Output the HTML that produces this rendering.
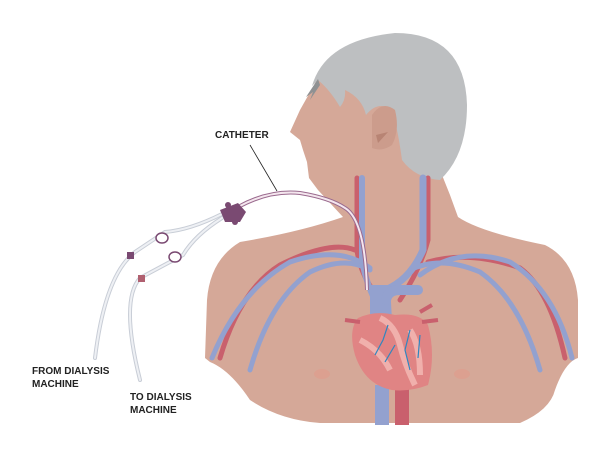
<!DOCTYPE html>
<html><head><style>body{margin:0;background:#fff}svg{display:block}
text{font-family:"Liberation Sans",sans-serif;font-weight:bold;font-size:10px;fill:#222}</style></head>
<body>
<svg width="612" height="454" viewBox="0 0 612 454">
<!-- head skin -->
<path d="M318,78 L300,110 L290,132 L300,140 L303,150 L307,162 L309,178 L318,190 L343,217 L458,217 L450,195 L442,175 L440,120 L400,60 L330,60 Z" fill="#d5a898"/>
<!-- body -->
<path d="M343,217 Q300,232 240,242 Q210,260 207,300 L205,358 L210,362 Q230,370 250,400 Q280,420 320,423 L520,423 Q550,410 555,390 Q565,362 578,358 L578,300 Q575,260 545,245 Q480,232 458,217 Z" fill="#d5a898"/>
<!-- hair -->
<path d="M312,86 Q325,40 395,33 Q465,33 467,105 Q467,155 440,180 Q415,178 402,160 Q398,130 392,110 Q378,100 366,115 Q362,98 345,90 Q346,100 340,107 Q330,90 318,80 Z" fill="#bdbfc1"/>
<path d="M318,79 L306,97 L313,92 L310,100 L320,85 Z" fill="#8f9193"/>
<!-- ear -->
<path d="M372,115 Q382,100 395,110 Q400,130 392,145 Q382,152 372,148 Z" fill="#cc9c8c"/>
<path d="M376,135 L388,132 L378,143 Z" fill="#b88474"/>
<!-- vessels -->
<g fill="none" stroke-linecap="round">
<path d="M357,178 L357,250 Q360,275 380,300" stroke="#c9606d" stroke-width="5"/>
<path d="M428,178 L428,240 Q420,270 400,300" stroke="#c9606d" stroke-width="5"/>
<path d="M220,358 Q240,290 280,265 Q330,240 355,250" stroke="#c9606d" stroke-width="5"/>
<path d="M565,358 Q550,290 520,268 Q470,250 428,262" stroke="#c9606d" stroke-width="5"/>
<path d="M212,358 Q240,290 290,262 Q340,245 370,268" stroke="#93a1cf" stroke-width="5"/>
<path d="M250,370 Q270,300 310,272 Q345,255 370,270" stroke="#93a1cf" stroke-width="5"/>
<path d="M540,370 Q520,300 480,272 Q440,255 410,270" stroke="#93a1cf" stroke-width="5"/>
<path d="M572,358 Q555,290 510,262 Q460,245 420,275" stroke="#93a1cf" stroke-width="5"/>
<path d="M362,178 L362,260 Q366,285 380,310" stroke="#93a1cf" stroke-width="6"/>
<path d="M423,178 L423,250 Q410,280 385,290" stroke="#93a1cf" stroke-width="7"/>
</g>
<path d="M370,285 L390,285 L392,320 L370,320 Z" fill="#93a1cf"/>
<rect x="375" y="385" width="14" height="40" fill="#93a1cf"/>
<rect x="395" y="385" width="14" height="40" fill="#c9606d"/>
<!-- heart -->
<path d="M358,318 Q375,310 395,315 Q420,312 428,325 Q436,355 428,385 Q410,392 392,390 Q365,385 355,355 Q348,330 358,318 Z" fill="#e08484"/>
<path d="M380,318 Q395,325 400,345 Q405,365 415,385 M360,340 Q380,350 390,370 M410,330 Q420,345 420,375" stroke="#f0b0ac" stroke-width="6" fill="none"/>
<path d="M388,325 L383,340 L375,355 M410,330 L405,350 L410,370 M395,345 L385,362 M420,335 L418,358" stroke="#2f86c0" stroke-width="1.2" fill="none"/>
<path d="M345,320 L360,322 M422,322 L438,320 M420,312 L432,305" stroke="#c9606d" stroke-width="4"/>
<path d="M386,300 Q388,290 400,290 L418,290" stroke="#93a1cf" stroke-width="10" fill="none" stroke-linecap="round"/>
<ellipse cx="322" cy="374" rx="8" ry="5" fill="#dca090"/>
<ellipse cx="462" cy="374" rx="8" ry="5" fill="#dca090"/>
<!-- catheter -->
<path d="M240,206 Q270,190 300,193 Q330,198 345,208 Q365,220 367,290" fill="none" stroke="#9a6a8e" stroke-width="4"/>
<path d="M240,206 Q270,190 300,193 Q330,198 345,208 Q365,220 367,290" fill="none" stroke="#f4e6ee" stroke-width="2"/>
<line x1="277" y1="191" x2="250" y2="145" stroke="#222" stroke-width="0.8"/>
<!-- external tubes -->
<g fill="none" stroke="#c8cdd6" stroke-width="4" stroke-linecap="round">
<path d="M222,214 Q190,230 165,232 L135,252 Q105,275 95,358"/>
<path d="M222,218 Q195,235 183,255 L140,278 Q120,300 140,380"/>
</g>
<g fill="none" stroke="#eef0f4" stroke-width="2" stroke-linecap="round">
<path d="M222,214 Q190,230 165,232 L135,252 Q105,275 95,358"/>
<path d="M222,218 Q195,235 183,255 L140,278 Q120,300 140,380"/>
</g>
<path d="M220,210 L238,203 L246,212 L240,222 L225,222 Z" fill="#7a4a72"/>
<circle cx="228" cy="205" r="3" fill="#7a4a72"/><circle cx="235" cy="222" r="3" fill="#7a4a72"/>
<rect x="127" y="252" width="7" height="7" fill="#7a4a72"/>
<rect x="138" y="275" width="7" height="7" fill="#b06070"/>
<ellipse cx="162" cy="238" rx="6" ry="5" fill="#fff" stroke="#7a4a72" stroke-width="1.5"/>
<ellipse cx="175" cy="257" rx="6" ry="5" fill="#fff" stroke="#7a4a72" stroke-width="1.5"/>
<text x="215" y="138">CATHETER</text>
<text x="32" y="374">FROM DIALYSIS</text><text x="32" y="387">MACHINE</text>
<text x="130" y="400">TO DIALYSIS</text><text x="130" y="413">MACHINE</text>
</svg>
</body></html>
